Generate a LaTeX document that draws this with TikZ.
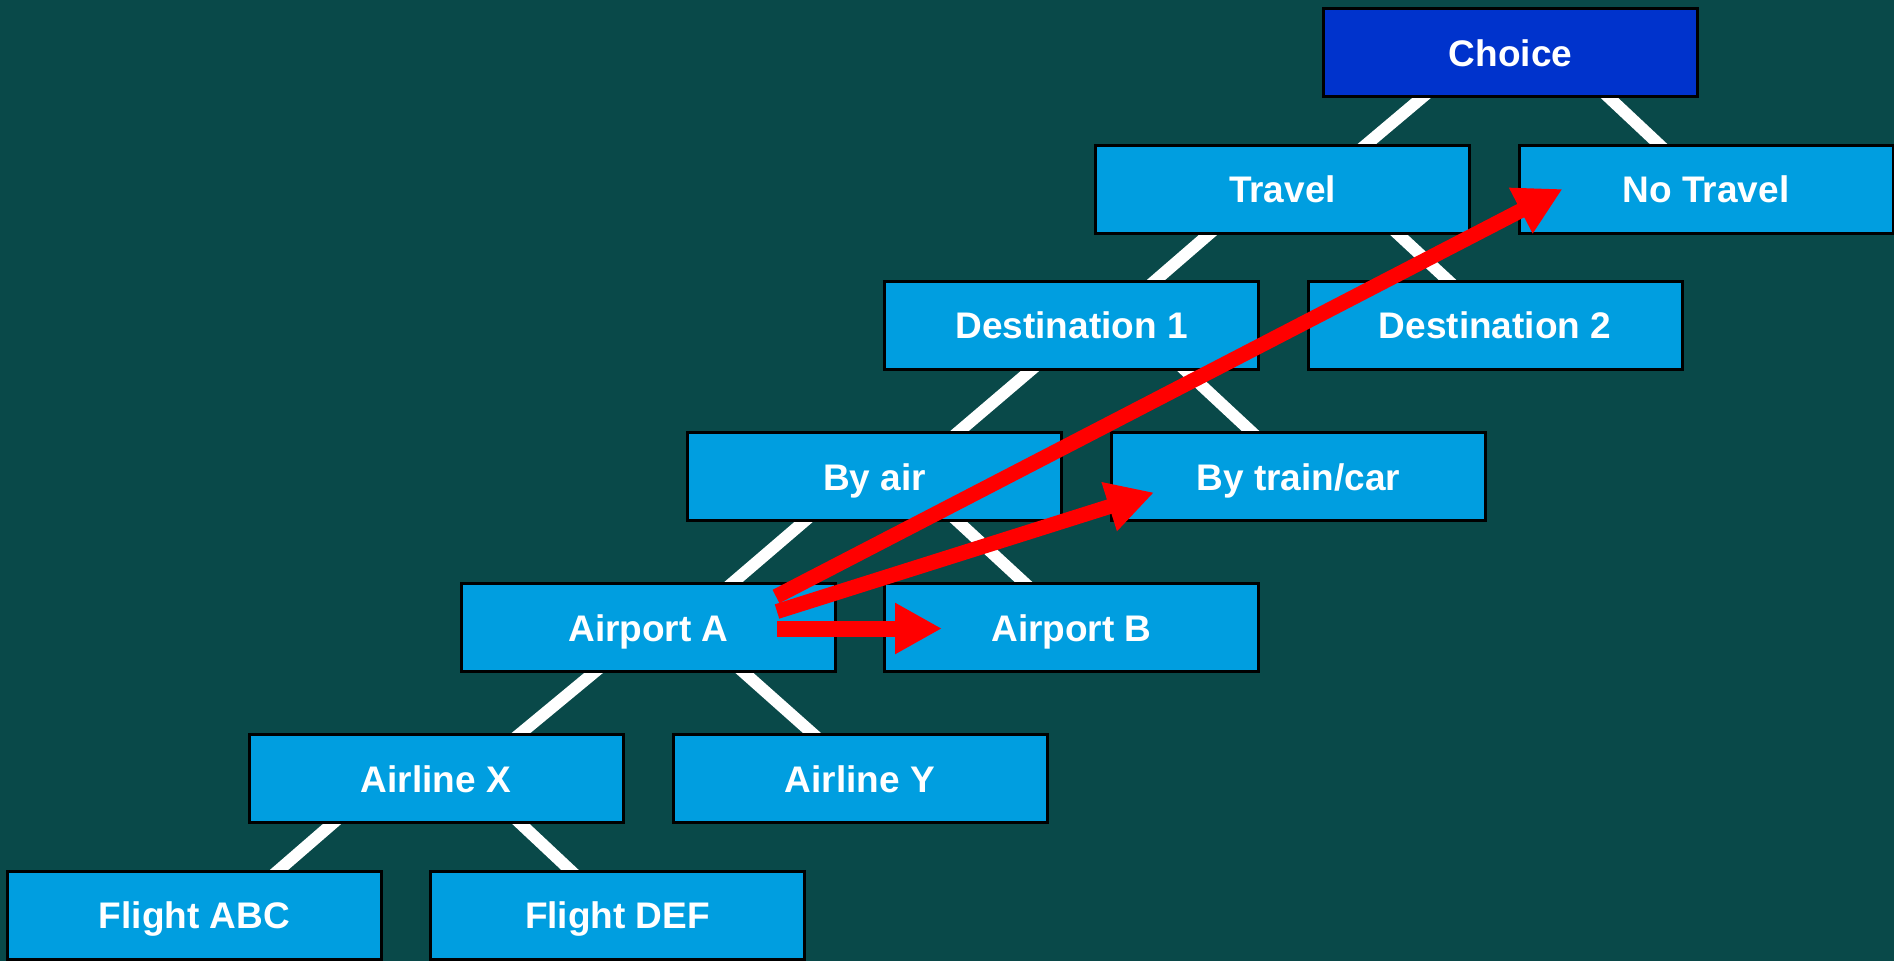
\documentclass[tikz,border=0pt]{standalone}
\usepackage{fontspec}
\setmainfont{Liberation Sans}
\usetikzlibrary{arrows.meta,calc}
\definecolor{bgc}{RGB}{9,73,73}
\definecolor{boxc}{RGB}{0,158,224}
\definecolor{topc}{RGB}{0,51,204}
\pgfdeclarelayer{bg}
\pgfsetlayers{bg,main}
\begin{document}
\begin{tikzpicture}[x=1pt,y=-1pt,
  box/.style={draw=black,line width=3pt,fill=boxc,minimum width=374pt,minimum height=88pt,inner sep=0pt,text=white,font=\fontsize{37}{40}\selectfont\bfseries,text depth=0pt,text height=27pt},
  topbox/.style={box,fill=topc},
  conn/.style={draw=white,line width=12pt,shorten <=-8pt,shorten >=-8pt},
  redarrow/.style={draw=red,line width=15pt,-{Triangle[length=47pt,width=48pt]}}]
\useasboundingbox (0,0) rectangle (1894,961);
% nodes
\node[topbox] (choice)   at (1510.5,52.5) {Choice};
\node[box]    (travel)   at (1282.5,189) {Travel};
\node[box]    (notravel) at (1706,189) {No Travel};
\node[box]    (dest1)    at (1071.5,325) {Destination 1};
\node[box]    (dest2)    at (1495,325) {Destination 2};
\node[box]    (byair)    at (874.5,476.5) {By air};
\node[box]    (train)    at (1298.5,476.5) {By train/car};
\node[box]    (airA)     at (648.5,627.5) {Airport A};
\node[box]    (airB)     at (1071.5,627.5) {Airport B};
\node[box]    (airlX)    at (436,778.5) {Airline X};
\node[box]    (airlY)    at (860,778.5) {Airline Y};
\node[box]    (fABC)     at (194.5,915) {Flight ABC};
\node[box]    (fDEF)     at (617.5,915) {Flight DEF};
% background and connectors
\begin{pgfonlayer}{bg}
\fill[bgc] (0,0) rectangle (1894,961);
\draw[conn] ($(travel.north)+(85,0)$) -- ($(choice.south)+(-89,0)$);
\draw[conn] ($(notravel.north)+(-48,0)$) -- ($(choice.south)+(99,0)$);
\draw[conn] ($(dest1.north)+(85,0)$) -- ($(travel.south)+(-74,0)$);
\draw[conn] ($(dest2.north)+(-48,0)$) -- ($(travel.south)+(116,0)$);
\draw[conn] ($(byair.north)+(85,0)$) -- ($(dest1.south)+(-41,0)$);
\draw[conn] ($(train.north)+(-48,0)$) -- ($(dest1.south)+(114,0)$);
\draw[conn] ($(airA.north)+(85,0)$) -- ($(byair.south)+(-71,0)$);
\draw[conn] ($(airB.north)+(-48,0)$) -- ($(byair.south)+(84,0)$);
\draw[conn] ($(airlX.north)+(85,0)$) -- ($(airA.south)+(-55,0)$);
\draw[conn] ($(airlY.north)+(-48,0)$) -- ($(airA.south)+(96,0)$);
\draw[conn] ($(fABC.north)+(85,0)$) -- ($(airlX.south)+(-104,0)$);
\draw[conn] ($(fDEF.north)+(-48,0)$) -- ($(airlX.south)+(85,0)$);
\end{pgfonlayer}
% red arrows
\draw[redarrow] ($(airA.east)+(-61,-31)$) -- ($(notravel.west)+(45,0)$);
\draw[redarrow] ($(airA.east)+(-60,-16)$) -- ($(train.west)+(44,16)$);
\draw[redarrow,line width=16pt] ($(airA.east)+(-60,1)$) -- ($(airB.west)+(59,1)$);
\end{tikzpicture}
\end{document}
